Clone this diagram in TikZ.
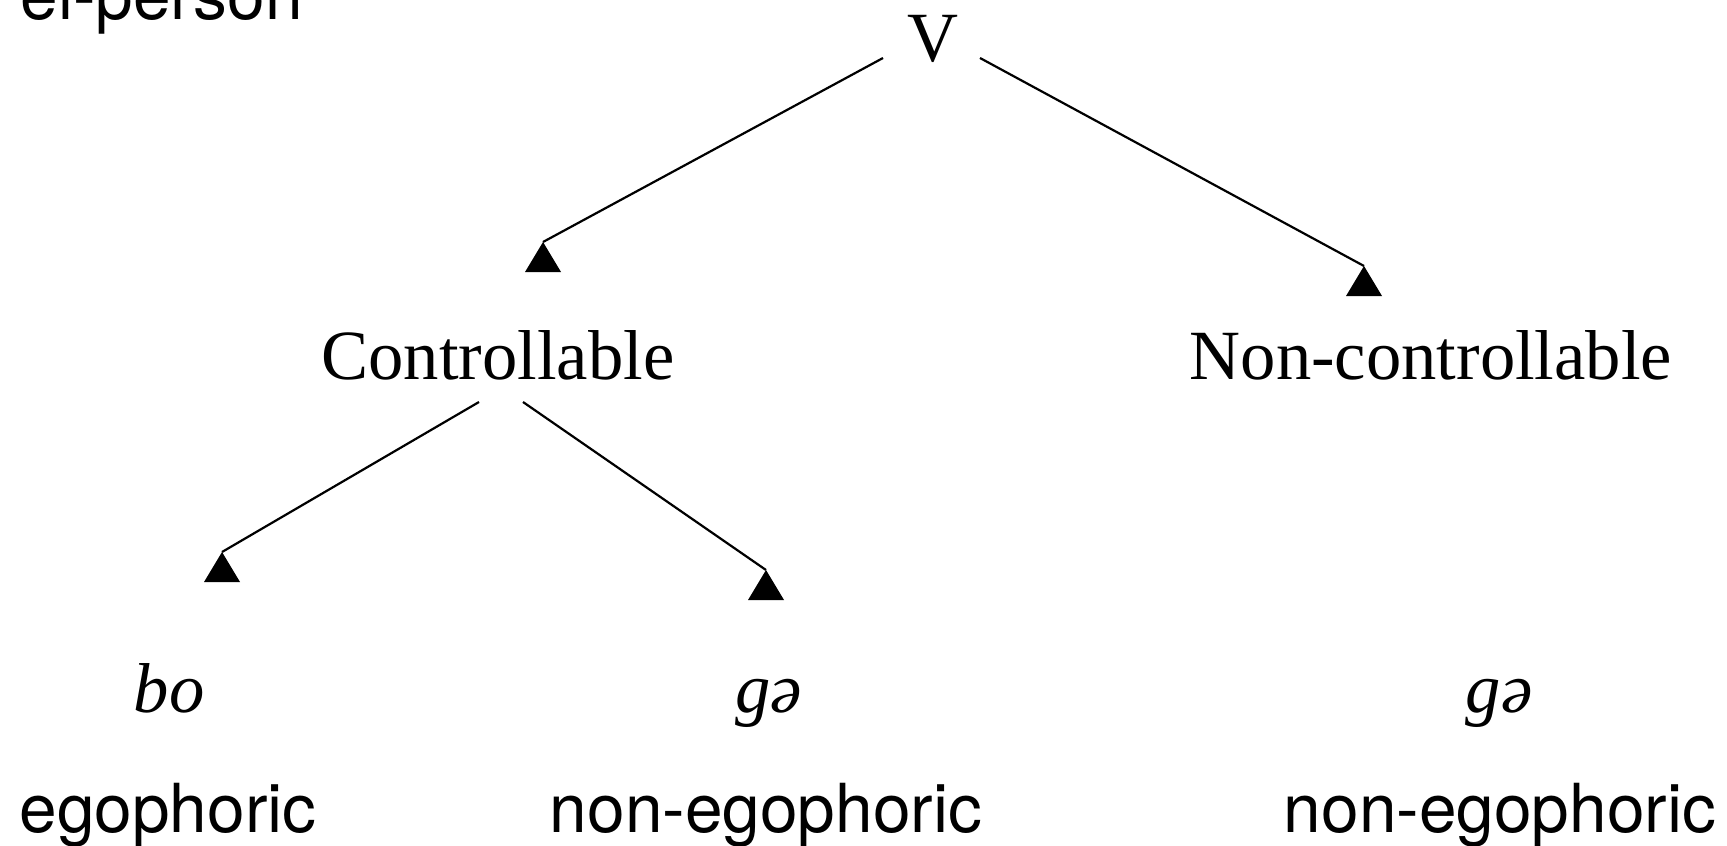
\documentclass[tikz,border=0pt]{standalone}
\usepackage{fontspec}
\setmainfont{Liberation Serif}
\newfontfamily\sansf{TeX Gyre Heros}
\tikzset{
  serif/.style={inner sep=0pt, anchor=base, font=\fontsize{35.3pt}{40pt}\selectfont},
  serifit/.style={inner sep=0pt, anchor=base, font=\fontsize{35.3pt}{40pt}\selectfont\itshape},
  gloss/.style={inner sep=0pt, anchor=base, font=\sansf\fontsize{33.8pt}{40pt}\selectfont},
  conn/.style={line width=1.1pt, black},
  tipfill/.style={fill=black}
}
\newcommand{\uptri}[1]{\fill[tipfill] (#1) -- ++(-18,30) -- ++(36,0) -- cycle;}
\begin{document}
\begin{tikzpicture}[x=0.5pt, y=-0.5pt]
  \useasboundingbox (0,0) rectangle (1727,845);
  \clip (0,0) rectangle (1727,845);
  \fill[white] (0,0) rectangle (1727,845);

  % cut-off heading
  \node[gloss, anchor=base east] (top) at (303,20) {el-person};

  % tree nodes
  \node[serif] (V) at (933,62) {V};
  \node[serif] (C) at (498,379) {Controllable};
  \node[serif] (N) at (1431,379) {Non-controllable};
  \node[serifit] (bo) at (169,712) {bo};
  \node[serifit] (ga1) at (769,712) {gə};
  \node[serifit] (ga2) at (1499,712) {gə};
  \node[gloss] (ego) at (168,832) {egophoric};
  \node[gloss] (nego1) at (766,832) {non-egophoric};
  \node[gloss] (nego2) at (1500,832) {non-egophoric};

  % connector ends
  \coordinate (s1) at (883,58);
  \coordinate (t1) at (543,242);
  \coordinate (s2) at (980,58);
  \coordinate (t2) at (1364,266);
  \coordinate (s3) at (479,402);
  \coordinate (t3) at (222,552);
  \coordinate (s4) at (523,402);
  \coordinate (t4) at (766,570);

  \draw[conn] (s1) -- (t1);
  \draw[conn] (s2) -- (t2);
  \draw[conn] (s3) -- (t3);
  \draw[conn] (s4) -- (t4);
  \uptri{t1}
  \uptri{t2}
  \uptri{t3}
  \uptri{t4}
\end{tikzpicture}
\end{document}
